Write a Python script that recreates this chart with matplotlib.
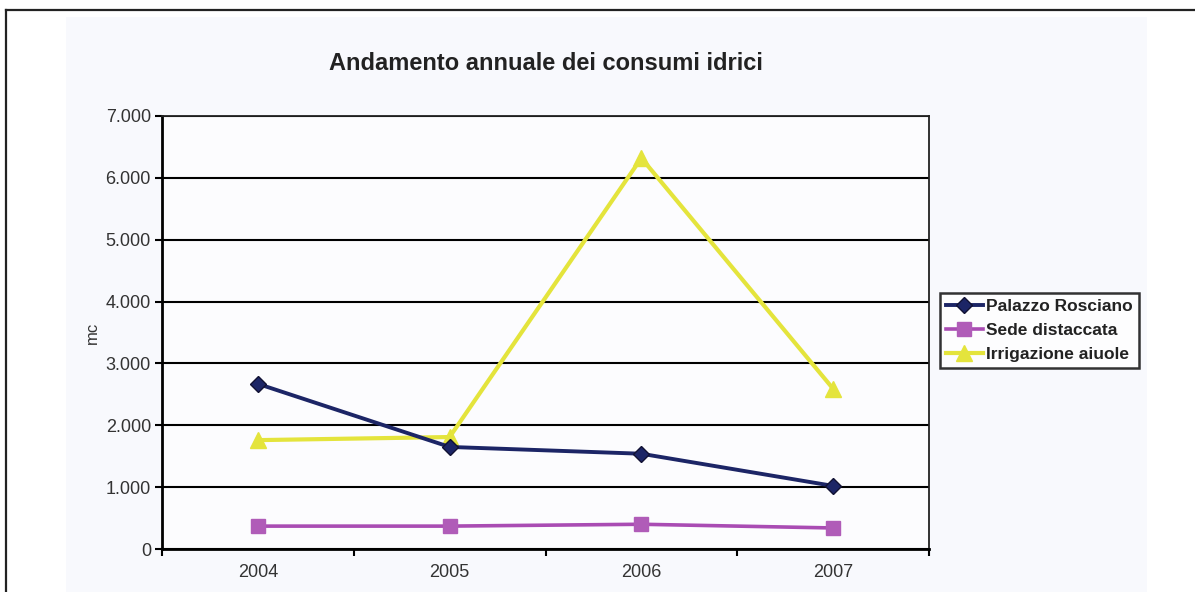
import matplotlib.pyplot as plt
import matplotlib.patches as mpatches
import matplotlib.lines as mlines
from matplotlib.ticker import FuncFormatter, MultipleLocator, FixedLocator

years = ["2004", "2005", "2006", "2007"]
palazzo = [2670, 1650, 1540, 1020]
sede = [370, 370, 400, 340]
irrigazione = [1760, 1810, 6320, 2590]
series_names = ["Palazzo Rosciano", "Sede distaccata", "Irrigazione aiuole"]

plt.rcParams['font.family'] = ['Liberation Sans', 'DejaVu Sans']

fig = plt.figure(figsize=(11.95, 5.92), dpi=100)
fig.patch.set_facecolor('white')

W, H = 1195, 592
# light panel
fig.add_artist(mpatches.Rectangle((66 / W, 0), (1147 - 66) / W, 1 - 17 / H,
                                  transform=fig.transFigure, facecolor='#f8f9fd',
                                  edgecolor='none', zorder=0))
# outer border (top and left)
fig.add_artist(mlines.Line2D([6 / W, 1.0], [1 - 10 / H, 1 - 10 / H], transform=fig.transFigure,
                             color='#222222', lw=1.6))
fig.add_artist(mlines.Line2D([6 / W, 6 / W], [0, 1 - 10 / H], transform=fig.transFigure,
                             color='#222222', lw=1.6))

ax = fig.add_axes([162 / W, 1 - 549 / H, (929 - 162) / W, (549 - 116) / H])
ax.set_facecolor('#fcfcfe')
x = list(range(len(years)))

ax.plot(x, palazzo, color='#1c2566', lw=2.8, marker='D', markersize=8,
        markerfacecolor='#1c2566', markeredgecolor='#111133', label=series_names[0], zorder=4)
ax.plot(x, sede, color='#a94cb3', lw=2.6, marker='s', markersize=9.5,
        markerfacecolor='#b05cb8', markeredgecolor='#b05cb8', label=series_names[1], zorder=4)
ax.plot(x, irrigazione, color='#e4e43c', lw=3, marker='^', markersize=11,
        markerfacecolor='#e4e43c', markeredgecolor='#e4e43c', label=series_names[2], zorder=3)

ax.set_xlim(-0.5, 3.5)
ax.set_ylim(0, 7000)
ax.yaxis.set_major_locator(MultipleLocator(1000))
ax.yaxis.set_major_formatter(FuncFormatter(lambda v, p: f"{int(v):,}".replace(",", ".")))
ax.set_xticks(x)
ax.set_xticklabels(years)
ax.xaxis.set_minor_locator(FixedLocator([-0.5, 0.5, 1.5, 2.5, 3.5]))
ax.tick_params(axis='x', which='major', length=0, pad=11, labelsize=13, colors='#333333')
ax.tick_params(axis='x', which='minor', length=5, width=1.5, direction='out', color='black')
ax.tick_params(axis='y', which='major', length=5, width=1.5, direction='out', labelsize=13,
               colors='#333333', pad=3)
ax.tick_params(axis='y', color='black')
ax.grid(axis='y', color='black', lw=1.5, zorder=1)
ax.set_axisbelow(True)

for s in ['left', 'bottom']:
    ax.spines[s].set_linewidth(2)
    ax.spines[s].set_color('black')
for s in ['top', 'right']:
    ax.spines[s].set_linewidth(1.3)
    ax.spines[s].set_color('#222222')

fig.text(92 / W, 1 - 333 / H, "mc", rotation=90, ha='center', va='center',
         fontsize=12, color='#333333')

fig.text(546 / W, 1 - 63 / H, "Andamento annuale dei consumi idrici", ha='center', va='center',
         fontsize=17, fontweight='bold', color='#222222')

leg = ax.legend(loc='upper left', bbox_to_anchor=(940 / W, 1 - 293 / H), bbox_transform=fig.transFigure,
                frameon=True, fancybox=False, edgecolor='black', facecolor='white',
                prop={'weight': 'bold', 'size': 12.5}, handlelength=2.1, handletextpad=0.2,
                labelspacing=0.5, borderpad=0.35, borderaxespad=0)
leg.get_frame().set_linewidth(1.8)
for t in leg.get_texts():
    t.set_color('#222222')

fig.savefig("out.png", dpi=100, facecolor='white')
